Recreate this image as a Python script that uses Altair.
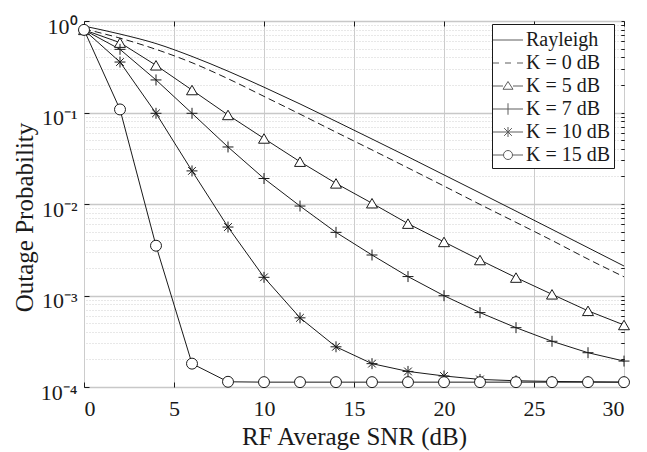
import altair as alt
import pandas as pd

# ---------------- data ----------------
snr = [0, 2, 4, 6, 8, 10, 12, 14, 16, 18, 20, 22, 24, 26, 28, 30]
rayleigh = [0.88, 0.72, 0.567, 0.41, 0.283, 0.189, 0.124, 0.080, 0.0513, 0.0328,
            0.0208, 0.0132, 0.00836, 0.00528, 0.00333, 0.0021]
k0 = [0.82, 0.65, 0.49, 0.35, 0.234, 0.150, 0.096, 0.061, 0.039, 0.0248,
      0.0157, 0.0099, 0.0063, 0.0040, 0.0025, 0.0016]
k5 = [0.80, 0.58, 0.328, 0.176, 0.094, 0.052, 0.029, 0.0168, 0.0102, 0.0061,
      0.00385, 0.00244, 0.00157, 0.00103, 0.00068, 0.000476]
k7 = [0.80, 0.49, 0.227, 0.098, 0.042, 0.019, 0.0095, 0.0049, 0.00277, 0.00161,
      0.000995, 0.00065, 0.000445, 0.000316, 0.000237, 0.000192]
k10 = [0.80, 0.356, 0.098, 0.023, 0.0056, 0.00158, 0.00057, 0.000275, 0.00018,
       0.000148, 0.000132, 0.000121, 0.000117, 0.000115, 0.000114, 0.000113]
k15 = [0.80, 0.108, 0.0035, 0.00018, 0.000114, 0.000113, 0.000113, 0.000113,
       0.000113, 0.000113, 0.000113, 0.000113, 0.000113, 0.000113, 0.000113, 0.000113]

series_names = ["Rayleigh", "K = 0 dB", "K = 5 dB", "K = 7 dB", "K = 10 dB", "K = 15 dB"]
marker_series = ["K = 5 dB", "K = 7 dB", "K = 10 dB", "K = 15 dB"]

x_major = [0, 5, 10, 15, 20, 25, 30]
y_major = [1, 0.1, 0.01, 0.001, 0.0001]
y_minor = [m * 10.0 ** e for e in range(-4, 0) for m in range(2, 10)]

rows = []
for name, vals in zip(series_names, [rayleigh, k0, k5, k7, k10, k15]):
    for x, v in zip(snr, vals):
        rows.append({"snr": x, "p": v, "series": name, "legend": name})
df = pd.DataFrame(rows)

# ---------------- style ----------------
FONT = "Liberation Serif, Times New Roman, Times, serif"
INK = "#1a1a1a"

marker_shapes = [
    "triangle-up",
    "M-1,0H1M0,-1V1",
    "M-1,0H1M0,-1V1M-0.7,-0.7L0.7,0.7M-0.7,0.7L0.7,-0.7",
    "circle",
]
legend_shapes = [
    "M-1.2,0H1.2",
    "M-1.2,0H-0.72M-0.24,0H0.24M0.72,0H1.2",
    "M-1.2,0H-0.4M0.4,0H1.2M0,-0.36L0.4,0.26L-0.4,0.26Z",
    "M-1.2,0H1.2M0,-0.46V0.46",
    "M-1.2,0H1.2M0,-0.4V0.4M-0.31,-0.31L0.31,0.31M-0.31,0.31L0.31,-0.31",
    "M-1.2,0H-0.36M0.36,0H1.2M0.36,0A0.36,0.36 0 1 1 -0.36,0A0.36,0.36 0 1 1 0.36,0Z",
]

label_expr = ("datum.value >= 0.5 ? '10⁰' : datum.value >= 0.05 ? '10⁻¹' : "
              "datum.value >= 0.005 ? '10⁻²' : datum.value >= 0.0005 ? '10⁻³' : '10⁻⁴'")

xs = alt.Scale(domain=[0, 30], nice=False, zero=False)
ys = alt.Scale(type="log", domain=[1e-4, 1], nice=False)

ax_x_main = alt.Axis(values=x_major, grid=True, gridColor="#cccccc", gridWidth=1,
                     domain=False, ticks=True, tickSize=5, offset=-5, tickColor=INK,
                     labelFont=FONT, labelFontSize=22, labelColor=INK, labelPadding=11,
                     title="RF Average SNR (dB)", titleFont=FONT, titleFontSize=25,
                     titleFontWeight="normal", titleColor=INK, titlePadding=5)
ax_y_main = alt.Axis(values=y_major, labelExpr=label_expr, grid=True, gridColor="#c8c8c8",
                     gridWidth=1.4, domain=False, ticks=True, tickSize=5, offset=-5,
                     tickColor=INK, labelFont=FONT, labelFontSize=22, labelColor=INK,
                     labelPadding=7, labelFlush=False, labelOffset=5,
                     title="Outage Probability", titleFont=FONT, titleFontSize=25,
                     titleFontWeight="normal", titleColor=INK, titlePadding=3,
                     titleY=196)
ax_y_minor = alt.Axis(values=y_minor, labels=False, grid=True, gridColor="#d0d0d0",
                      gridDash=[1, 2], gridWidth=1, domain=False, ticks=True, tickSize=3,
                      offset=-3, tickColor=INK, title=None)
ax_x_top = alt.Axis(orient="top", values=x_major, labels=False, grid=False, domain=False,
                    ticks=True, tickSize=5, offset=-5, tickColor=INK, title=None)
ax_y_right = alt.Axis(orient="right", values=y_major + y_minor, labels=False, grid=False,
                      domain=False, ticks=True, tickSize=3, offset=-3, tickColor=INK,
                      title=None)

base = alt.Chart(df)

lay_lines = base.transform_filter(
    alt.FieldOneOfPredicate(field="series", oneOf=marker_series)
).mark_line(color=INK, strokeWidth=1).encode(
    x=alt.X("snr:Q", scale=xs, axis=ax_x_main),
    y=alt.Y("p:Q", scale=ys, axis=ax_y_main),
    detail="series:N",
)

lay_ray = base.transform_filter(alt.datum.series == "Rayleigh").mark_line(
    color=INK, strokeWidth=1, interpolate="monotone"
).encode(
    x=alt.X("snr:Q", scale=xs, axis=None),
    y=alt.Y("p:Q", scale=ys, axis=None),
)

lay_k0 = base.transform_filter(alt.datum.series == "K = 0 dB").mark_line(
    color=INK, strokeWidth=1, strokeDash=[7, 4], interpolate="monotone"
).encode(
    x=alt.X("snr:Q", scale=xs, axis=None),
    y=alt.Y("p:Q", scale=ys, axis=None),
)

lay_markers = base.transform_filter(
    alt.FieldOneOfPredicate(field="series", oneOf=marker_series)
).mark_point(filled=True, fill="white", stroke=INK, strokeWidth=1, opacity=1, size=120).encode(
    x=alt.X("snr:Q", scale=xs, axis=ax_x_top),
    y=alt.Y("p:Q", scale=ys, axis=ax_y_minor),
    shape=alt.Shape("series:N", scale=alt.Scale(domain=marker_series, range=marker_shapes),
                    legend=None),
)

# legend carrier: its own points sit below the visible domain and are clipped away
lay_legend = base.transform_filter(alt.datum.snr == 0).transform_calculate(
    hidden="datum.p * 1e-6"
).mark_point(
    filled=True, fill="white", stroke=INK, strokeWidth=1, clip=True
).encode(
    x=alt.X("snr:Q", scale=xs, axis=None),
    y=alt.Y("hidden:Q", scale=ys, axis=ax_y_right),
    shape=alt.Shape(
        "legend:N",
        scale=alt.Scale(domain=series_names, range=legend_shapes),
        legend=alt.Legend(
            title=None, orient="none", legendX=408, legendY=3,
            labelFont=FONT, labelFontSize=20, labelColor=INK, labelOffset=5,
            symbolSize=625, symbolStrokeWidth=1,
            strokeColor=INK, fillColor="white", padding=3, rowPadding=0,
            cornerRadius=0,
        ),
    ),
)

chart = alt.layer(lay_lines, lay_ray, lay_k0, lay_markers, lay_legend).resolve_scale(
    shape="independent"
).resolve_axis(x="independent", y="independent").properties(
    width=540, height=366,
    autosize=alt.AutoSizeParams(type="none"),
    padding={"left": 76, "top": 13, "right": 15, "bottom": 64},
    background="white",
).configure_view(stroke=INK, strokeWidth=1)

chart.save("out.html", embed_options={"renderer": "svg", "actions": False})
